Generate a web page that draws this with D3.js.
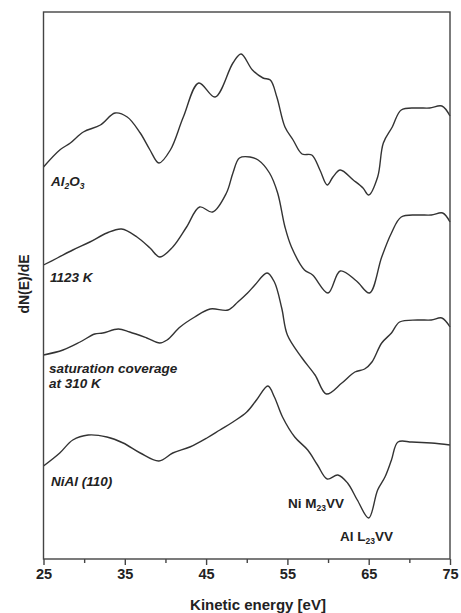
<!DOCTYPE html>
<html>
<head>
<meta charset="utf-8">
<script src="https://cdn.jsdelivr.net/npm/d3@7"></script>
<style>
  body { margin: 0; background: #fff; }
  svg { display: block; font-family: "Liberation Sans", Arial, sans-serif; }
</style>
</head>
<body>
<script>
const width = 461, height = 613
const margin = {top: 12, right: 11, bottom: 54, left: 43.5}

// kinetic energy (eV) and offset dN(E)/dE (arb. units) for each spectrum
const al2o3E = [25, 27, 28.3, 29.9, 32, 33.8, 35.3, 36.9, 38.1, 39.2, 40.6, 42.2, 44.1, 46.1, 48.3, 49.3, 50.7, 52, 52.9, 53.7, 54.7, 55.7, 56.8, 58, 59, 59.9, 60.6, 61.5, 63.1, 64.3, 65, 66.1, 66.8, 67.9, 69, 70.9, 72.5, 74, 75]
const al2o3V = [392, 409, 416, 427, 434, 446, 442, 426, 409, 396, 409, 442, 476, 462, 496, 505, 489, 481, 479, 462, 432, 419, 405, 404, 389, 374, 382, 389, 379, 371, 364, 382, 416, 432, 449, 451, 451, 453, 443]

const k1123E = [25, 26.7, 28.6, 30.7, 32.8, 34.6, 36.5, 38.1, 39.3, 40.9, 42.6, 44.2, 45.8, 47.5, 48.3, 49.1, 50.4, 51.4, 52.8, 53.8, 54.7, 55.5, 57.1, 58.1, 60, 61.5, 63.5, 65.1, 66.6, 67.8, 69, 71, 72.7, 74.1, 75]
const k1123V = [294, 301, 309, 317, 326, 330, 322, 311, 302, 312, 332, 352, 347, 366, 386, 401, 402, 399, 386, 366, 332, 312, 289, 284, 266, 288, 278, 266, 302, 326, 342, 344, 344, 346, 337]

const satE = [25, 27.4, 29.5, 31.3, 32.3, 34.2, 35.6, 37.7, 39.3, 40.2, 41.8, 43.6, 45.5, 47.7, 48.9, 50.1, 51, 52.5, 53.4, 54.3, 55, 56.8, 58.4, 59.8, 61.7, 63.3, 64.5, 65.4, 66.6, 67.8, 68.8, 71, 72.7, 74, 75]
const satV = [204, 209, 217, 225, 226, 230, 227, 221, 216, 219, 232, 242, 250, 249, 257, 266, 274, 286, 277, 251, 224, 201, 184, 165, 176, 187, 190, 197, 216, 226, 237, 239, 239, 241, 232]

const nialE = [25, 27, 28.6, 30.5, 32.8, 34.8, 36.9, 39.2, 40.9, 43, 45.1, 46.7, 48.3, 50, 51.2, 52.6, 53.4, 54.4, 55.9, 57.5, 58.7, 59.9, 61.2, 62.4, 63.6, 65, 66.1, 67, 67.8, 68.6, 70.3, 72.7, 75]
const nialV = [93, 106, 119, 124, 122, 116, 106, 98, 106, 112, 121, 129, 137, 147, 159, 173, 162, 142, 122, 109, 94, 80, 84, 76, 59, 41, 69, 82, 99, 117, 117, 116, 114]

const majorTicks = [25, 35, 45, 55, 65, 75]
const minorTicks = [30, 40, 50, 60, 70]

const series = [
  {e: al2o3E, v: al2o3V},
  {e: k1123E, v: k1123V},
  {e: satE, v: satV},
  {e: nialE, v: nialV}
]

const x = d3.scaleLinear().domain([25, 75]).range([margin.left, width - margin.right])
const y = d3.scaleLinear().domain([0, 547]).range([height - margin.bottom, margin.top])

const svg = d3.select('body').append('svg')
  .attr('width', width)
  .attr('height', height)

const line = d3.line()
  .x(d => x(d[0]))
  .y(d => y(d[1]))
  .curve(d3.curveCatmullRom.alpha(0.5))

svg.append('g')
  .attr('fill', 'none')
  .attr('stroke', '#333')
  .attr('stroke-width', 1.4)
  .selectAll('path').data(series).enter()
  .append('path')
  .attr('d', s => line(s.e.map((e, i) => [e, s.v[i]])))

// frame
svg.append('rect')
  .attr('x', margin.left)
  .attr('y', margin.top)
  .attr('width', width - margin.right - margin.left)
  .attr('height', height - margin.bottom - margin.top)
  .attr('fill', 'none')
  .attr('stroke', '#444')
  .attr('stroke-width', 1.4)

const xAxis = svg.append('g')
  .attr('transform', `translate(0,${height - margin.bottom})`)
  .call(d3.axisBottom(x).tickValues(majorTicks).tickSize(6).tickPadding(4).tickFormat(d3.format('d')))
xAxis.select('.domain').remove()
xAxis.selectAll('line').attr('stroke', '#444').attr('stroke-width', 1.4)
xAxis.selectAll('text')
  .attr('fill', '#222')
  .style('font-size', '14.5px')
  .style('font-weight', 'bold')

const xMinor = svg.append('g')
  .attr('transform', `translate(0,${height - margin.bottom})`)
  .call(d3.axisBottom(x).tickValues(minorTicks).tickSize(4).tickFormat(''))
xMinor.select('.domain').remove()
xMinor.selectAll('line').attr('stroke', '#444').attr('stroke-width', 1.4)

svg.append('text')
  .attr('x', 258)
  .attr('y', 610)
  .attr('text-anchor', 'middle')
  .attr('fill', '#222')
  .style('font-size', '15px')
  .style('font-weight', 'bold')
  .text('Kinetic energy [eV]')

svg.append('text')
  .attr('transform', 'translate(29,284) rotate(-90)')
  .attr('text-anchor', 'middle')
  .attr('fill', '#222')
  .style('font-size', '14px')
  .style('font-weight', 'bold')
  .text('dN(E)/dE')

// curve labels
const lab = svg.append('g')
  .attr('fill', '#222')
  .style('font-size', '13.5px')
  .style('font-weight', 'bold')

const t1 = lab.append('text').attr('x', 51).attr('y', 186).style('font-style', 'italic')
t1.append('tspan').text('Al')
t1.append('tspan').attr('dy', 3).style('font-size', '8.5px').text('2')
t1.append('tspan').attr('dy', -3).text('O')
t1.append('tspan').attr('dy', 3).style('font-size', '8.5px').text('3')

lab.append('text').attr('x', 50).attr('y', 282).style('font-style', 'italic').text('1123 K')
lab.append('text').attr('x', 49).attr('y', 373).style('font-style', 'italic').text('saturation coverage')
lab.append('text').attr('x', 49).attr('y', 388).style('font-style', 'italic').text('at 310 K')
lab.append('text').attr('x', 51).attr('y', 486).style('font-style', 'italic').text('NiAl (110)')

const t2 = lab.append('text').attr('x', 288).attr('y', 508)
t2.append('tspan').text('Ni M')
t2.append('tspan').attr('dy', 3).style('font-size', '8.5px').text('23')
t2.append('tspan').attr('dy', -3).text('VV')

const t3 = lab.append('text').attr('x', 340).attr('y', 541)
t3.append('tspan').text('Al L')
t3.append('tspan').attr('dy', 3).style('font-size', '8.5px').text('23')
t3.append('tspan').attr('dy', -3).text('VV')
</script>
</body>
</html>
